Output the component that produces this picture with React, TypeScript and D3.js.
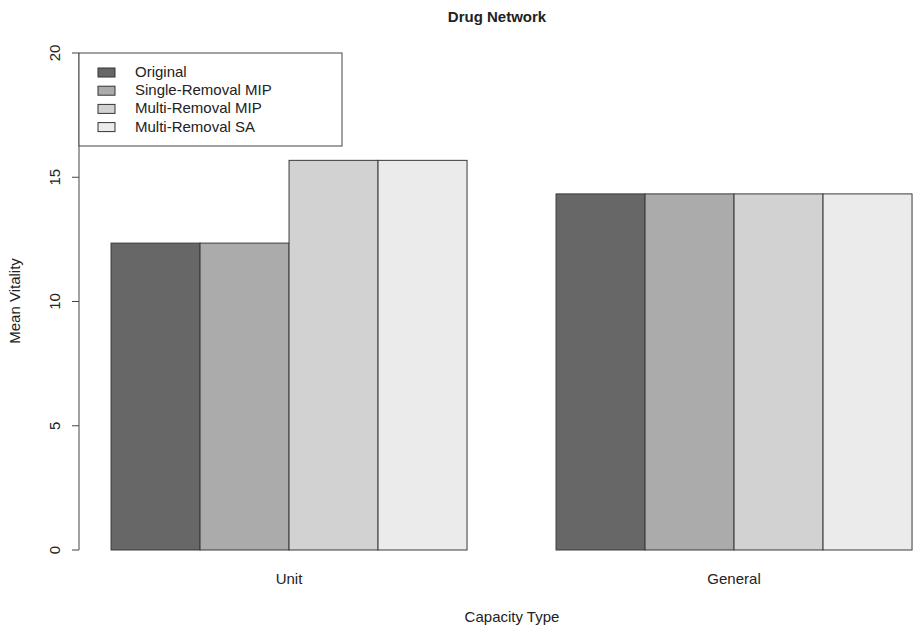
import React, { useEffect, useRef } from 'react';
import * as d3 from 'd3';

const categories = ['Unit', 'General'];
const seriesNames = ['Original', 'Single-Removal MIP', 'Multi-Removal MIP', 'Multi-Removal SA'];
const unitValues = [12.35, 12.35, 15.68, 15.68];
const generalValues = [14.33, 14.33, 14.33, 14.33];
const yTicks = [0, 5, 10, 15, 20];
const fills = ['#676767', '#aaabaa', '#d2d2d2', '#ebebeb'];

const W = 916;
const H = 629;
const FONT = '"Liberation Sans", Arial, sans-serif';

const App = () => {
  const ref = useRef<SVGSVGElement>(null);

  useEffect(() => {
    const svg = d3.select(ref.current);
    svg.selectAll('*').remove();

    const values = [unitValues, generalValues];
    const n = seriesNames.length;

    // R-style bar positions: bar i of group g starts at g*(n+1) + i + 1
    const x = d3.scaleLinear().domain([0.64, 10.36]).range([79, 79 + 9.72 * 89]);
    const y = d3.scaleLinear().domain([0, 20]).range([550, 53]);

    const g = svg.append('g');

    values.forEach((vals, gi) => {
      vals.forEach((v, i) => {
        const x0 = gi * (n + 1) + i + 1;
        g.append('rect')
          .attr('x', x(x0))
          .attr('y', y(v))
          .attr('width', x(x0 + 1) - x(x0))
          .attr('height', y(0) - y(v))
          .attr('fill', fills[i])
          .attr('stroke', '#3a3a3a')
          .attr('stroke-width', 1);
      });
      g.append('text')
        .attr('x', x(gi * (n + 1) + 1 + n / 2))
        .attr('y', 584)
        .attr('text-anchor', 'middle')
        .style('font-family', FONT)
        .style('font-size', '15px')
        .attr('fill', '#222')
        .text(categories[gi]);
    });

    // y axis
    const yAxis = svg.append('g');
    yAxis.append('line')
      .attr('x1', 79).attr('x2', 79)
      .attr('y1', y(0)).attr('y2', y(20))
      .attr('stroke', '#444');
    yTicks.forEach((t) => {
      yAxis.append('line')
        .attr('x1', 72).attr('x2', 79)
        .attr('y1', y(t)).attr('y2', y(t))
        .attr('stroke', '#444');
      yAxis.append('text')
        .attr('transform', `translate(61,${y(t)}) rotate(-90)`)
        .attr('text-anchor', 'middle')
        .style('font-family', FONT)
        .style('font-size', '15px')
        .attr('fill', '#222')
        .attr('dy', '-0.1em')
        .text(t);
    });

    // legend
    const lg = svg.append('g');
    lg.append('rect')
      .attr('x', 79).attr('y', 53)
      .attr('width', 263).attr('height', 93)
      .attr('fill', 'white')
      .attr('stroke', '#444');
    seriesNames.forEach((s, i) => {
      const cy = 72 + i * 18.2;
      lg.append('rect')
        .attr('x', 98).attr('y', cy - 4)
        .attr('width', 17).attr('height', 9)
        .attr('fill', fills[i])
        .attr('stroke', '#333');
      lg.append('text')
        .attr('x', 135).attr('y', cy + 5)
        .style('font-family', FONT)
        .style('font-size', '15px')
        .attr('fill', '#222')
        .text(s);
    });

    // titles
    svg.append('text')
      .attr('x', 497).attr('y', 22)
      .attr('text-anchor', 'middle')
      .style('font-family', FONT)
      .style('font-size', '15px')
      .style('font-weight', 'bold')
      .attr('fill', '#222')
      .text('Drug Network');

    svg.append('text')
      .attr('x', 512).attr('y', 622)
      .attr('text-anchor', 'middle')
      .style('font-family', FONT)
      .style('font-size', '15px')
      .attr('fill', '#222')
      .text('Capacity Type');

    svg.append('text')
      .attr('transform', `translate(20,301) rotate(-90)`)
      .attr('text-anchor', 'middle')
      .style('font-family', FONT)
      .style('font-size', '15px')
      .attr('fill', '#222')
      .text('Mean Vitality');
  }, []);

  return (
    <svg ref={ref} width={W} height={H} style={{ position: 'absolute', left: 0, top: 0, background: 'white' }} />
  );
};

export default App;
